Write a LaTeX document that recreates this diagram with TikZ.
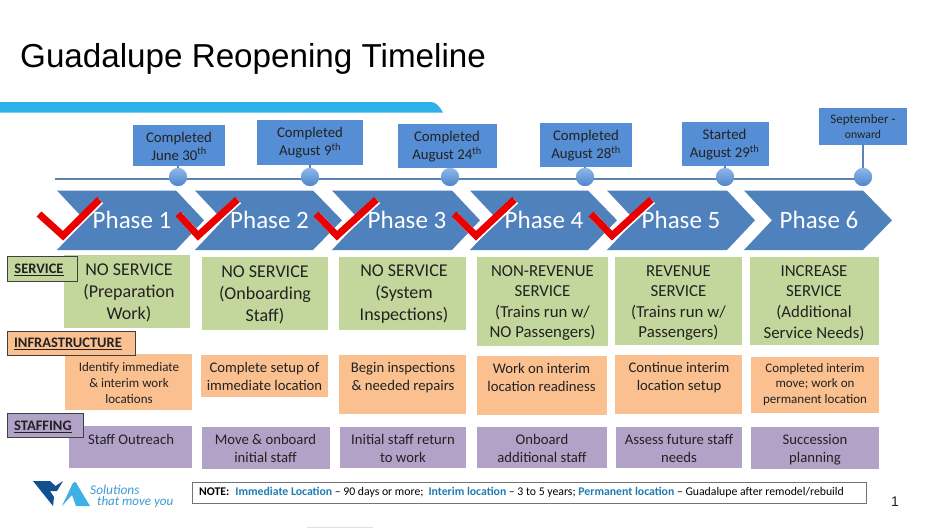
\documentclass[tikz,border=0pt]{standalone}
\usepackage{fontspec}
\setmainfont{Carlito}
\newfontfamily\arialf{Liberation Sans}
\definecolor{barblue}{HTML}{2FB0E6}
\definecolor{chev}{HTML}{4F81BD}
\definecolor{datebox}{HTML}{558ED5}
\definecolor{lineblue}{HTML}{5B84B4}
\definecolor{ballt}{HTML}{8DB7EA}
\definecolor{ballb}{HTML}{4F86CC}
\definecolor{greenb}{HTML}{C3D69B}
\definecolor{orangeb}{HTML}{FAC090}
\definecolor{purpleb}{HTML}{B3A2C7}
\definecolor{ink}{HTML}{222222}
\definecolor{notec}{HTML}{1F7DB0}
\definecolor{vtadark}{HTML}{12508F}
\definecolor{vtalight}{HTML}{3FB0E4}
\definecolor{vtatext}{HTML}{3B9AD2}
\tikzset{
  x=1pt,y=-1pt,
  chevron/.style={fill=chev,draw=none},
  tick/.style={draw=red!92!black,line width=7pt,line cap=butt,line join=miter,miter limit=10},
  tickhalo/.style={draw=white,line width=7pt,line join=miter,miter limit=10},
  ball/.style={circle,minimum size=18pt,inner sep=0pt,top color=ballt,bottom color=ballb,draw=none},
  link/.style={draw=lineblue,line width=1.6pt},
  boxbase/.style={inner sep=0pt,draw=none},
  gbox/.style={boxbase,fill=greenb},
  obox/.style={boxbase,fill=orangeb},
  pbox/.style={boxbase,fill=purpleb},
  dbox/.style={boxbase,fill=datebox},
  tag/.style={draw=black!75,line width=.8pt,inner sep=0pt},
  txt/.style={align=center,text=ink,inner sep=0pt},
  gtxt/.style={txt,font=\fontsize{18}{22}\selectfont},
  ltxt/.style={txt,font=\fontsize{16.8}{20.6}\selectfont},
  mtxt/.style={txt,font=\fontsize{14.7}{18}\selectfont},
  stxt/.style={txt,font=\fontsize{13}{15.6}\selectfont},
  dtxt/.style={txt,font=\fontsize{14.8}{18}\selectfont},
  tagtxt/.style={txt,font=\bfseries\fontsize{14.5}{16}\selectfont},
  phase/.style={text=white,inner sep=0pt,font=\fontsize{25}{30}\selectfont},
}
% style, name, x1, y1, x2, y2, text style, text x, text y, text
\newcommand{\bx}[9]{%
  \pgfmathsetmacro{\bw}{#5-#3}\pgfmathsetmacro{\bh}{#6-#4}%
  \pgfmathsetmacro{\bcx}{(#3+#5)/2}\pgfmathsetmacro{\bcy}{(#4+#6)/2}%
  \node[#1,minimum width=\bw pt,minimum height=\bh pt] (#2) at (\bcx,\bcy) {};%
  \node[#7] (#2t) at (#8,#9) }
\newcommand{\chv}[3]{% left, right top, tip
  \pgfmathsetmacro{\nch}{#1+28}%
  \fill[chevron] (#1,190.5) -- (#2,190.5) -- (#3,220.3) -- (#2,250) -- (#1,250) -- (\nch,220.3) -- cycle;}
\newcommand{\chk}[3]{%
  \draw[tickhalo] (#1+2.2,214+1.2) -- (#2+1.2,235.7+1.2) -- (#3+.7,199.5+1.2);
  \draw[tick] (#1+1,214) -- (#2,235.7) -- (#3-.5,199.5);}
\begin{document}
\begin{tikzpicture}
\useasboundingbox (0,0) rectangle (938,528);
\fill[white] (0,0) rectangle (938,528);
\node[anchor=west,inner sep=0pt,text=black,font=\arialf\fontsize{33.2}{38}\selectfont] (title) at (20,59) {Guadalupe Reopening Timeline};
\fill[barblue] (0,102) -- (430,102) .. controls (435,102) and (438,104) .. (443,112.5) -- (0,112.5) -- cycle;
% timeline
\coordinate (tl) at (55,179);
\node[ball] (b1) at (178,177) {};
\node[ball] (b2) at (310,177) {};
\node[ball] (b3) at (450,177) {};
\node[ball] (b4) at (585,177) {};
\node[ball] (b5) at (725,177) {};
\node[ball] (b6) at (863,177) {};
% date boxes
\bx{dbox}{d1}{133}{125}{225}{166}{dtxt}{179}{146}{Completed\\June 30\textsuperscript{th}};
\bx{dbox}{d2}{257}{120}{363}{165}{dtxt}{310}{143}{Completed\\August 9\textsuperscript{th}};
\bx{dbox}{d3}{398}{124}{497}{168}{dtxt}{447}{147}{Completed\\August 24\textsuperscript{th}};
\bx{dbox}{d4}{540}{123}{632}{167}{dtxt}{586}{145.5}{Completed\\August 28\textsuperscript{th}};
\bx{dbox}{d5}{682}{122}{769}{166}{dtxt}{724.5}{145}{Started\\August 29\textsuperscript{th}};
\bx{dbox}{d6}{819}{108}{907}{145}{txt,font=\fontsize{13}{15}\selectfont}{863}{126.5}{September -\\[-.5pt]{\fontsize{11.7}{15}\selectfont onward}};
\draw[link] (tl) -- (b6.center |- tl);
\foreach \i in {1,...,6}{\draw[link] (d\i.south -| b\i.center) -- (b\i.north);}
\foreach \i in {1,...,6}{\node[ball] at (b\i) {};}
% chevrons
\chv{57}{176}{204}
\chv{195}{313}{342}
\chv{332}{452}{480}
\chv{470}{588}{617}
\chv{607}{727}{755}
\chv{744}{863}{892}
\node[phase] (p1) at (132,220) {Phase 1};
\node[phase] (p2) at (269.5,220) {Phase 2};
\node[phase] (p3) at (407,220) {Phase 3};
\node[phase] (p4) at (544,220) {Phase 4};
\node[phase] (p5) at (681,220) {Phase 5};
\node[phase] (p6) at (819,220) {Phase 6};
% service boxes
\bx{gbox}{g1}{64}{255}{190}{328}{gtxt}{129}{293}{NO SERVICE\\(Preparation\\Work)};
\bx{gbox}{g2}{201.5}{257}{328}{330}{gtxt}{265}{294.5}{NO SERVICE\\(Onboarding\\Staff)};
\bx{gbox}{g3}{339}{257}{466}{330}{gtxt}{404}{294.5}{NO SERVICE\\(System\\Inspections)};
\bx{gbox}{g4}{477}{257}{607.5}{346}{ltxt}{542.5}{303}{NON-REVENUE\\SERVICE\\(Trains run w/\\NO Passengers)};
\bx{gbox}{g5}{615}{257}{742}{345}{ltxt}{678.5}{303}{REVENUE\\SERVICE\\(Trains run w/\\Passengers)};
\bx{gbox}{g6}{750}{257}{879}{345}{ltxt}{814}{303}{INCREASE\\SERVICE\\(Additional\\Service Needs)};
% infrastructure boxes
\bx{obox}{o1}{65}{354}{192}{410}{stxt}{129}{383}{Identify immediate\\\& interim work\\locations};
\bx{obox}{o2}{201}{355}{328}{397}{mtxt}{264.5}{376}{Complete setup of\\immediate location};
\bx{obox}{o3}{339}{355}{466}{414}{mtxt}{403}{377.5}{Begin inspections\\\& needed repairs};
\bx{obox}{o4}{477}{356}{606.5}{415}{mtxt}{541.5}{377}{Work on interim\\location readiness};
\bx{obox}{o5}{615}{355}{742}{414}{mtxt}{679}{377.5}{Continue interim\\location setup};
\bx{obox}{o6}{750.5}{357}{879}{413}{stxt}{815}{384.5}{Completed interim\\move; work on\\permanent location};
% staffing boxes
\bx{pbox}{s1}{69}{426}{192}{468}{mtxt}{131}{439}{Staff Outreach};
\bx{pbox}{s2}{201.5}{427}{330}{468.5}{mtxt}{265.5}{448}{Move \& onboard\\initial staff};
\bx{pbox}{s3}{340}{427}{466}{468}{mtxt}{403}{448}{Initial staff return\\to work};
\bx{pbox}{s4}{477}{427}{607}{468}{mtxt}{542}{448}{Onboard\\additional staff};
\bx{pbox}{s5}{615.5}{427}{742}{468}{mtxt}{679}{448.5}{Assess future staff\\needs};
\bx{pbox}{s6}{750.5}{427}{879}{469}{mtxt}{815}{450}{Succession\\planning};
% row tags
\bx{tag,fill=greenb}{t1}{7.5}{256}{77}{281}{tagtxt}{39}{269.5}{\underline{SERVICE}};
\bx{tag,fill=orangeb}{t2}{7}{331}{135}{355}{tagtxt}{68}{343.5}{\underline{INFRASTRUCTURE}};
\bx{tag,fill=purpleb}{t3}{7}{413}{83}{437}{tagtxt}{43}{426.5}{\underline{STAFFING}};
% checks
\chk{38}{63}{100}
\chk{177}{198}{238}
\chk{315}{337}{377}
\chk{453}{476}{515}
\chk{590}{612}{652}
% note
\bx{draw=black!55,line width=.8pt,fill=white}{n}{192}{482}{866}{503}{txt,text=black,font=\fontsize{11.76}{13}\selectfont,anchor=west}{199}{492.5}{\textbf{NOTE:}\hspace{6pt}\textcolor{notec}{\textbf{Immediate Location}} -- 90 days or more;\hspace{5pt}\textcolor{notec}{\textbf{Interim location}} -- 3 to 5 years; \textcolor{notec}{\textbf{Permanent location}} -- Guadalupe after remodel/rebuild};
% logo
\fill[vtadark] (33,481) -- (50,481) -- (55.5,486) -- (63,481) -- (57,491) -- (50,491) -- (54,497) -- (53,506) -- cycle;
\fill[vtalight] (62,506) -- (71,487) .. controls (73,481) and (76,480) .. (78,486) -- (90,506) -- (76,506) -- (72,495) -- cycle;
\node[anchor=west,inner sep=0pt,text=vtatext,font=\itshape\fontsize{13.4}{15}\selectfont] (l1) at (90,489.5) {Solutions};
\node[anchor=west,inner sep=0pt,text=vtatext,font=\itshape\fontsize{13}{15}\selectfont] (l2) at (97,502) {that move you};
\node[inner sep=0pt,text=ink,font=\arialf\fontsize{14}{16}\selectfont] (pg) at (895,501.5) {1};
\draw[black!12,line width=.8pt] (307,527.5) -- (373,527.5);
\end{tikzpicture}
\end{document}
